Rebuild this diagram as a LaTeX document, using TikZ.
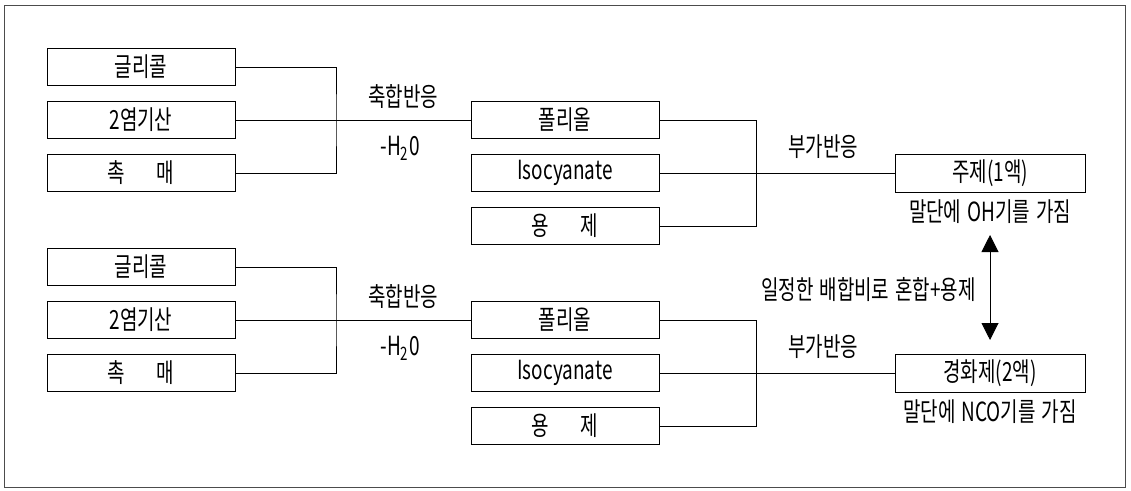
\documentclass[tikz,border=0pt]{standalone}
\usepackage{fontspec}
\setmainfont[FakeStretch=0.72,WordSpace=1.4]{Noto Sans CJK KR}
\usetikzlibrary{arrows.meta}

\begin{document}
\begin{tikzpicture}[x=0.02cm, y=-0.02cm, line width=0.5pt,
    every node/.style={font=\fontsize{15}{17}\selectfont},
    box/.style={draw, minimum width=3.76cm, minimum height=0.74cm, inner sep=0pt},
    endbox/.style={draw, minimum width=3.8cm, minimum height=0.76cm, inner sep=0pt},
    tip/.style={{Triangle[width=0.34cm,length=0.34cm]}-{Triangle[width=0.34cm,length=0.34cm]}}]
    \useasboundingbox (0,0) rectangle (1131,490);
    \draw[black!70] (4,5) rectangle (1125,487);

    % upper line: main agent
    \node[box] (gly1) at (141,67) {글리콜};
    \node[box] (acid1) at (141,120) {2염기산};
    \node[box] (cat1) at (141,173) {촉\hspace{1.2em}매};
    \node[box] (pol1) at (565,120) {폴리올};
    \node[box] (iso1) at (565,173) {Isocyanate};
    \node[box] (sol1) at (565,226) {용\hspace{1.2em}제};
    \node[endbox] (main1) at (990,173) {주제(1액)};
    \coordinate (j1) at (336,120);
    \coordinate (k1) at (756,173);
    \draw (gly1.east) -| (j1) |- (cat1.east);
    \draw (acid1.east) -- (pol1.west);
    \draw (pol1.east) -| (k1) |- (sol1.east);
    \draw (iso1.east) -- (main1.west);
    \node (cond1) at (403,97) {축합반응};
    \node (water1) at (400,148) {-H\textsubscript{2}0};
    \node (add1) at (823,147) {부가반응};
    \node (oh) at (990,212) {말단에 OH기를 가짐};

    % lower line: hardener
    \node[box] (gly2) at (141,267) {글리콜};
    \node[box] (acid2) at (141,320) {2염기산};
    \node[box] (cat2) at (141,373) {촉\hspace{1.2em}매};
    \node[box] (pol2) at (565,320) {폴리올};
    \node[box] (iso2) at (565,373) {Isocyanate};
    \node[box] (sol2) at (565,426) {용\hspace{1.2em}제};
    \node[endbox] (main2) at (990,373) {경화제(2액)};
    \coordinate (j2) at (336,320);
    \coordinate (k2) at (756,373);
    \draw (gly2.east) -| (j2) |- (cat2.east);
    \draw (acid2.east) -- (pol2.west);
    \draw (pol2.east) -| (k2) |- (sol2.east);
    \draw (iso2.east) -- (main2.west);
    \node (cond2) at (403,297) {축합반응};
    \node (water2) at (400,348) {-H\textsubscript{2}0};
    \node (add2) at (823,347) {부가반응};
    \node (nco) at (990,412) {말단에 NCO기를 가짐};

    % mixing
    \coordinate (up) at (990,235);
    \coordinate (down) at (990,340);
    \draw[tip] (up) -- (down);
    \node[anchor=east] (mix) at (982,290) {일정한 배합비로 혼합+용제};
\end{tikzpicture}
\end{document}
